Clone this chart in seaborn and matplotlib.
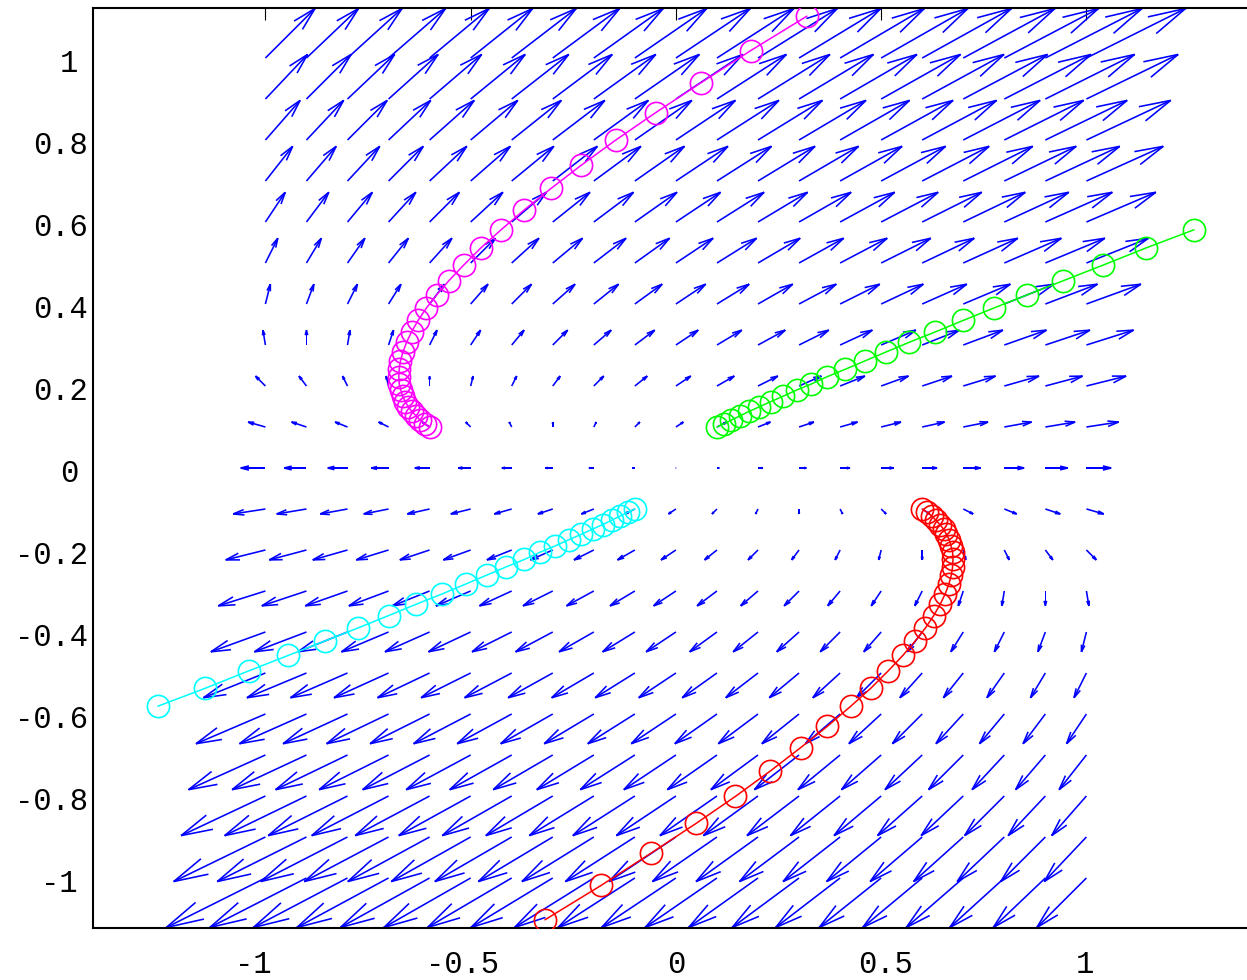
import numpy as np
import matplotlib
matplotlib.use("Agg")
import matplotlib.pyplot as plt
from matplotlib.transforms import ScaledTranslation
import seaborn as sns

# ---------------- data ----------------
# quiver grid
grid_x = [-1.0, -0.9, -0.8, -0.7, -0.6, -0.5, -0.4, -0.3, -0.2, -0.1, 0.0,
          0.1, 0.2, 0.3, 0.4, 0.5, 0.6, 0.7, 0.8, 0.9, 1.0]
grid_y = [-1.0, -0.9, -0.8, -0.7, -0.6, -0.5, -0.4, -0.3, -0.2, -0.1, 0.0,
          0.1, 0.2, 0.3, 0.4, 0.5, 0.6, 0.7, 0.8, 0.9, 1.0]
# linear system read from the arrows: [dx, dy] = A @ [x, y]
system_A = [[1.0, 3.0],
            [0.0, 2.0]]
arrow_scale = 0.0604

# trajectories (marker positions)
green_x = [0.100, 0.117, 0.135, 0.156, 0.178, 0.203, 0.231, 0.261, 0.294, 0.330, 0.369,
           0.413, 0.460, 0.512, 0.569, 0.632, 0.700, 0.774, 0.855, 0.944, 1.041, 1.146, 1.262]
green_y = [0.100, 0.108, 0.117, 0.127, 0.138, 0.149, 0.162, 0.175, 0.190, 0.205, 0.223,
           0.241, 0.261, 0.283, 0.307, 0.332, 0.360, 0.390, 0.422, 0.457, 0.495, 0.537, 0.581]

cyan_x = [-0.100, -0.117, -0.135, -0.156, -0.178, -0.203, -0.231, -0.261, -0.294, -0.330, -0.369,
          -0.413, -0.460, -0.512, -0.569, -0.632, -0.700, -0.774, -0.855, -0.944, -1.041, -1.146, -1.262]
cyan_y = [-0.100, -0.108, -0.117, -0.127, -0.138, -0.149, -0.162, -0.175, -0.190, -0.205, -0.223,
          -0.241, -0.261, -0.283, -0.307, -0.332, -0.360, -0.390, -0.422, -0.457, -0.495, -0.537, -0.581]

magenta_x = [-0.600, -0.612, -0.623, -0.633, -0.643, -0.652, -0.659, -0.666, -0.670, -0.674, -0.675,
             -0.674, -0.671, -0.665, -0.656, -0.644, -0.628, -0.608, -0.583, -0.553, -0.517, -0.475,
             -0.426, -0.369, -0.304, -0.230, -0.145, -0.049, 0.060, 0.182, 0.319]
magenta_y = [0.100, 0.108, 0.117, 0.127, 0.138, 0.149, 0.162, 0.175, 0.190, 0.205, 0.223,
             0.241, 0.261, 0.283, 0.307, 0.332, 0.360, 0.390, 0.422, 0.457, 0.495, 0.537,
             0.581, 0.630, 0.682, 0.739, 0.801, 0.867, 0.939, 1.018, 1.102]

red_x = [0.600, 0.612, 0.623, 0.633, 0.643, 0.652, 0.659, 0.666, 0.670, 0.674, 0.675,
         0.674, 0.671, 0.665, 0.656, 0.644, 0.628, 0.608, 0.583, 0.553, 0.517, 0.475,
         0.426, 0.369, 0.304, 0.230, 0.145, 0.049, -0.060, -0.182, -0.319]
red_y = [-0.100, -0.108, -0.117, -0.127, -0.138, -0.149, -0.162, -0.175, -0.190, -0.205, -0.223,
         -0.241, -0.261, -0.283, -0.307, -0.332, -0.360, -0.390, -0.422, -0.457, -0.495, -0.537,
         -0.581, -0.630, -0.682, -0.739, -0.801, -0.867, -0.939, -1.018, -1.102]

x_ticks = [-1, -0.5, 0, 0.5, 1]
x_tick_labels = ["-1", "-0.5", "0", "0.5", "1"]
y_ticks = [-1, -0.8, -0.6, -0.4, -0.2, 0, 0.2, 0.4, 0.6, 0.8, 1]
y_tick_labels = ["-1", "-0.8", "-0.6", "-0.4", "-0.2", "0", "0.2", "0.4", "0.6", "0.8", "1"]

# ---------------- style ----------------
sns.set_theme(style="white")
plt.rcParams["font.family"] = ["Liberation Mono", "DejaVu Sans Mono"]

W, H = 1247, 980
fig = plt.figure(figsize=(W / 100, H / 100), dpi=100)
xlim = (-1.42, 1.42)
ylim = (-1.122, 1.122)
ax_left = 93 / W
ax_bottom = 52 / H
ax_h = 920 / H
ax_w = (xlim[1] - xlim[0]) * 410.5 / W
ax = fig.add_axes([ax_left, ax_bottom, ax_w, ax_h])

# ---------------- vector field ----------------
GX, GY = np.meshgrid(np.array(grid_x), np.array(grid_y))
A = np.array(system_A)
U = A[0, 0] * GX + A[0, 1] * GY
V = A[1, 0] * GX + A[1, 1] * GY

blue = "#0000ff"
qkw = dict(angles="xy", scale_units="xy", scale=1 / arrow_scale, units="dots",
           width=1.6, headwidth=0, headlength=0, headaxislength=0,
           pivot="tail", color=blue, minlength=0.5, zorder=2)
ax.quiver(GX, GY, U, V, **qkw)

head_back = 0.338
head_side = 0.084
TX = GX + arrow_scale * U
TY = GY + arrow_scale * V
B1u = -head_back * U - head_side * V
B1v = -head_back * V + head_side * U
B2u = -head_back * U + head_side * V
B2v = -head_back * V - head_side * U
ax.quiver(TX, TY, B1u, B1v, **qkw)
ax.quiver(TX, TY, B2u, B2v, **qkw)

# ---------------- trajectories ----------------
for xs, ys, col in [(magenta_x, magenta_y, "#ff00ff"),
                    (green_x, green_y, "#00ff00"),
                    (cyan_x, cyan_y, "#00ffff"),
                    (red_x, red_y, "#ff0000")]:
    sns.lineplot(x=xs, y=ys, ax=ax, sort=False, estimator=None, color=col,
                 linewidth=1.1, marker="o", markersize=16, mfc="none",
                 mec=col, mew=1.2, zorder=3)

# ---------------- axes ----------------
ax.set_xlim(*xlim)
ax.set_ylim(*ylim)
ax.set_xticks(x_ticks)
ax.set_xticklabels(x_tick_labels)
ax.set_yticks(y_ticks)
ax.set_yticklabels(y_tick_labels)
ax.tick_params(axis="both", direction="in", length=8.6, width=0.8,
               colors="black", labelsize=22, top=True, right=True)
ax.tick_params(axis="x", pad=16)
ax.tick_params(axis="y", pad=3.6)
for sp in ax.spines.values():
    sp.set_linewidth(1.5)
    sp.set_color("black")
ax.grid(False)

# label nudges (pixels) to mimic the original renderer's text placement
x_label_dx = [-12, -8, 0, 4, -2]
for t, dx in zip(ax.xaxis.get_major_ticks(), x_label_dx):
    t.label1.set_transform(t.label1.get_transform()
                           + ScaledTranslation(dx / 100, 0, fig.dpi_scale_trans))
for t, lab in zip(ax.yaxis.get_major_ticks(), y_tick_labels):
    dx = -10 if "." not in lab else 0
    t.label1.set_transform(t.label1.get_transform()
                           + ScaledTranslation(dx / 100, -2.5 / 100, fig.dpi_scale_trans))

fig.savefig("out.png", dpi=100)
